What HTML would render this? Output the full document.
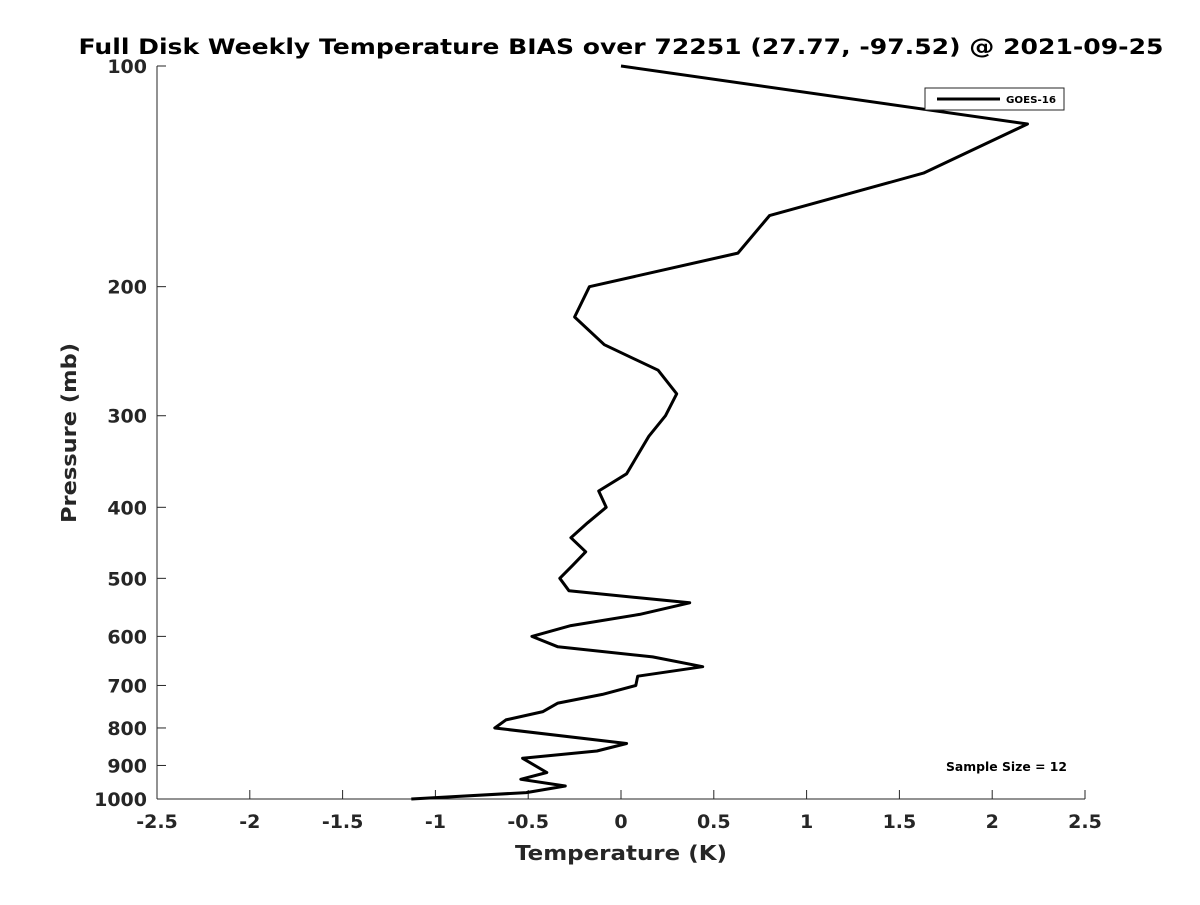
<!DOCTYPE html>
<html><head><meta charset="utf-8"><style>
body{margin:0;background:#fff;}
svg text{font-family:"DejaVu Sans","Liberation Sans",sans-serif;font-weight:bold;fill:#262626;}
</style></head><body>
<svg id="chart" width="1200" height="900" xmlns="http://www.w3.org/2000/svg">
<text x="621" y="54" text-anchor="middle" font-size="21" textLength="1085" lengthAdjust="spacingAndGlyphs" style="fill:#000">Full Disk Weekly Temperature BIAS over 72251 (27.77, -97.52) @ 2021-09-25</text>
<g id="axes"></g>
<g id="series"></g>
<text x="621" y="860" text-anchor="middle" font-size="20" textLength="212" lengthAdjust="spacingAndGlyphs">Temperature (K)</text>
<text transform="translate(76,433) rotate(-90)" text-anchor="middle" font-size="20" textLength="180" lengthAdjust="spacingAndGlyphs">Pressure (mb)</text>
<g>
<rect x="925" y="88" width="139" height="22" fill="#fff" stroke="#262626" stroke-width="1"/>
<line x1="937" y1="99" x2="1000" y2="99" stroke="#000" stroke-width="3"/>
<text x="1006" y="103" font-size="10" textLength="50" lengthAdjust="spacingAndGlyphs" style="fill:#000">GOES-16</text>
</g>
<text x="946" y="771" font-size="12" textLength="121" lengthAdjust="spacingAndGlyphs" style="fill:#000">Sample Size = 12</text>
</svg>
<script>
const xTicks=[-2.5,-2,-1.5,-1,-0.5,0,0.5,1,1.5,2,2.5];
const xTickLabels=["-2.5","-2","-1.5","-1","-0.5","0","0.5","1","1.5","2","2.5"];
const yTicks=[100,200,300,400,500,600,700,800,900,1000];
const temps=[0,2.19,1.63,0.80,0.63,-0.17,-0.25,-0.09,0.20,0.30,0.24,0.15,0.03,-0.12,-0.08,-0.18,-0.27,-0.19,-0.26,-0.33,-0.28,0.37,0.10,-0.27,-0.48,-0.34,0.17,0.44,0.09,0.08,-0.10,-0.34,-0.42,-0.62,-0.68,0.03,-0.13,-0.53,-0.40,-0.54,-0.30,-0.51,-1.13];
const pressures=[100,120,140,160,180,200,220,240,260,280,300,320,360,380,400,420,440,460,480,500,520,540,560,580,600,620,640,660,680,700,720,740,760,780,800,840,860,880,920,940,960,980,1000];
const X0=157,X1=1085,Y0=66,Y1=799;
const xs=v=>X0+(v+2.5)/5*(X1-X0);
const ys=p=>Y0+Math.log10(p/100)*(Y1-Y0);
const NS="http://www.w3.org/2000/svg";
const ax=document.getElementById('axes');
function mk(t,a,parent){const e=document.createElementNS(NS,t);for(const k in a)e.setAttribute(k,a[k]);parent.appendChild(e);return e;}
let e=mk('line',{x1:X0,y1:Y0,x2:X0,y2:Y1,stroke:'#262626','stroke-width':1},ax);


e=mk('line',{x1:X0,y1:Y1,x2:X1,y2:Y1,stroke:'#262626','stroke-width':1},ax);


xTicks.forEach((v,i)=>{
 const x=xs(v);
 mk('line',{x1:x,y1:Y1,x2:x,y2:Y1-9,stroke:'#262626'},ax);
 const t=mk('text',{x:x,y:Y1+29,'text-anchor':'middle','font-size':19},ax);
 t.textContent=xTickLabels[i];
 
 
});
yTicks.forEach(p=>{
 const y=ys(p);
 mk('line',{x1:X0,y1:y,x2:X0+9,y2:y,stroke:'#262626'},ax);
 const t=mk('text',{x:X0-10,y:y+7,'text-anchor':'end','font-size':19},ax);
 t.textContent=String(p);
 
 
});
const pts=temps.map((t,i)=>xs(t).toFixed(1)+','+ys(pressures[i]).toFixed(1)).join(' ');
const pl=mk('polyline',{points:pts,fill:'none',stroke:'#000','stroke-width':3,'stroke-linejoin':'round'},document.getElementById('series'));


</script>
</body></html>
